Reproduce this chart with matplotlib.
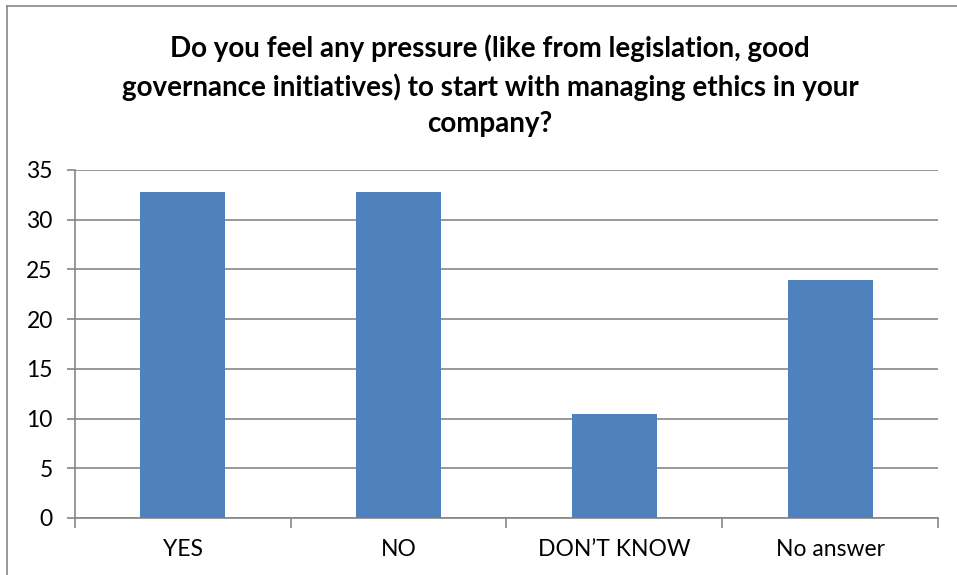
import matplotlib.pyplot as plt
import numpy as np
from matplotlib.lines import Line2D

categories = ['YES', 'NO', 'DON\u2019T KNOW', 'No answer']
values = [32.8, 32.8, 10.5, 23.9]
yticks = [0, 5, 10, 15, 20, 25, 30, 35]

plt.rcParams['font.family'] = ['Lato', 'DejaVu Sans']

fig = plt.figure(figsize=(9.57, 5.75), dpi=100)
ax = fig.add_axes([75 / 957, 1 - 518 / 575, 863 / 957, 348 / 575])

x = np.arange(len(categories))
ax.bar(x, values, width=0.395, color='#4f81bd', zorder=3)

ax.set_xlim(-0.5, len(categories) - 0.5)
ax.set_ylim(0, 35)
ax.set_yticks(yticks)
ax.set_yticklabels([str(v) for v in yticks], fontsize=16.5)
ax.grid(axis='y', color='#868686', linewidth=1.2, zorder=0)

# labels at centres, tick marks at category boundaries
ax.set_xticks(x)
ax.set_xticklabels(categories, fontsize=16.5)
ax.set_xticks(np.arange(-0.5, len(categories)), minor=True)
ax.tick_params(axis='x', which='major', length=0, pad=15)
ax.tick_params(axis='x', which='minor', length=7, color='#868686', width=1.2)
ax.tick_params(axis='y', length=6, color='#868686', width=1.2, pad=10)

for s in ['top', 'right']:
    ax.spines[s].set_visible(False)
for s in ['left', 'bottom']:
    ax.spines[s].set_color('#868686')
    ax.spines[s].set_linewidth(1.2)

fig.text(490 / 957, 1 - 86 / 575,
         'Do you feel any pressure (like from legislation, good\n'
         'governance initiatives) to start with managing ethics in your\n'
         'company?',
         ha='center', va='center', fontsize=20, fontweight='bold',
         linespacing=1.5)

# outer chart border (cropped on right and bottom)
fig.add_artist(Line2D([7 / 957, 7 / 957], [0, 1 - 6 / 575], color='#868686', linewidth=1.2))
fig.add_artist(Line2D([7 / 957, 1], [1 - 6 / 575, 1 - 6 / 575], color='#868686', linewidth=1.2))

fig.savefig('out.png', dpi=100)
